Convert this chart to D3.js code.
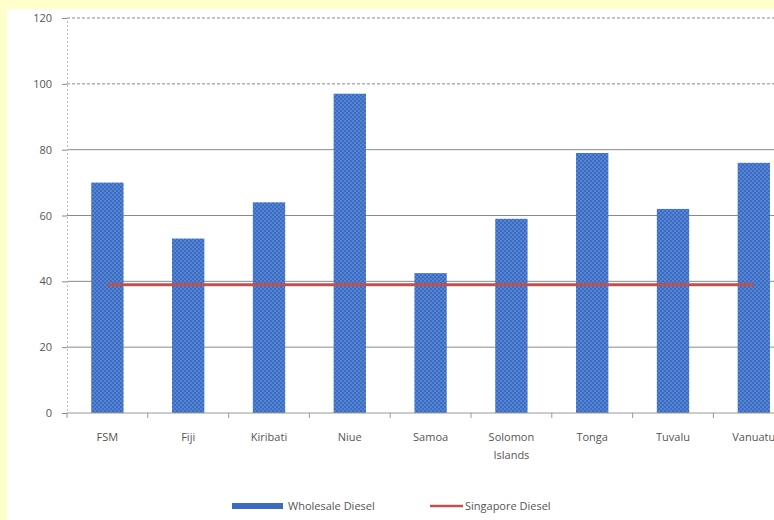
<!DOCTYPE html>
<html>
<head>
<meta charset="utf-8">
<script src="https://cdn.jsdelivr.net/npm/d3@7"></script>
<style>
  html, body { margin: 0; padding: 0; background: #ffffcc; }
  svg { display: block; }
  text { font-family: "Open Sans", "DejaVu Sans", sans-serif; fill: #555; }
</style>
</head>
<body>
<script>
// Wholesale diesel prices by Pacific island country vs. Singapore benchmark
const categories = ["FSM", "Fiji", "Kiribati", "Niue", "Samoa", "Solomon Islands", "Tonga", "Tuvalu", "Vanuatu"];
const wholesaleDiesel = [70, 53, 64, 97, 42.5, 59, 79, 62, 76];
const singaporeDiesel = [39, 39, 39, 39, 39, 39, 39, 39, 39];
const yTicks = [0, 20, 40, 60, 80, 100, 120];
const seriesNames = ["Wholesale Diesel", "Singapore Diesel"];

const W = 774, H = 520;
const svg = d3.select("body").append("svg").attr("width", W).attr("height", H);

// white chart panel on the yellow page
svg.append("rect").attr("x", 7).attr("y", 9).attr("width", W - 7).attr("height", H - 9).attr("fill", "#fff");

// hatched fill for the bars
const defs = svg.append("defs");
const pat = defs.append("pattern").attr("id", "hatch").attr("patternUnits", "userSpaceOnUse")
  .attr("width", 4).attr("height", 4);
pat.append("rect").attr("width", 4).attr("height", 4).attr("fill", "#3b6cc2");
pat.append("rect").attr("x", 0).attr("y", 0).attr("width", 2).attr("height", 2).attr("fill", "#5584d2");
pat.append("rect").attr("x", 2).attr("y", 2).attr("width", 2).attr("height", 2).attr("fill", "#5584d2");

const plotLeft = 67, plotTop = 18, plotBottom = 413;
const step = 80.8;
const x = d3.scaleBand().domain(categories).range([plotLeft, plotLeft + step * categories.length])
  .paddingInner(0.6).paddingOuter(0.3);
const y = d3.scaleLinear().domain([0, 120]).range([plotBottom, plotTop]);

// horizontal gridlines
const grid = svg.append("g");
grid.selectAll("line").data(yTicks.filter(d => d > 0)).join("line")
  .attr("x1", plotLeft).attr("x2", W)
  .attr("y1", d => y(d)).attr("y2", d => y(d))
  .attr("stroke", "#8a8a8a").attr("stroke-width", 1)
  .attr("stroke-dasharray", d => d >= 100 ? "3,2" : null);

// y axis
const yAxis = d3.axisLeft(y).tickValues(yTicks).tickSize(5).tickPadding(10);
const gy = svg.append("g").attr("transform", `translate(${plotLeft},0)`).call(yAxis);
gy.select(".domain").attr("stroke", "#bbb").attr("stroke-dasharray", "2,2");
gy.selectAll(".tick line").attr("stroke", "#888");
gy.selectAll(".tick text").attr("font-size", 11).style("fill", "#555");

// bars
svg.append("g").selectAll("rect").data(categories).join("rect")
  .attr("x", d => x(d))
  .attr("width", x.bandwidth())
  .attr("y", (d, i) => y(wholesaleDiesel[i]))
  .attr("height", (d, i) => y(0) - y(wholesaleDiesel[i]))
  .attr("fill", "url(#hatch)");

// x axis baseline with ticks between categories
svg.append("line").attr("x1", plotLeft).attr("x2", W).attr("y1", plotBottom).attr("y2", plotBottom)
  .attr("stroke", "#999").attr("stroke-width", 1);
const bounds = d3.range(categories.length + 1).map(i => plotLeft + i * step);
svg.append("g").selectAll("line").data(bounds).join("line")
  .attr("x1", d => d).attr("x2", d => d).attr("y1", plotBottom).attr("y2", plotBottom + 5)
  .attr("stroke", "#999");

// category labels (wrapped onto two lines where needed)
const labels = svg.append("g").selectAll("text").data(categories).join("text")
  .attr("x", d => x(d) + x.bandwidth() / 2)
  .attr("y", 441)
  .attr("text-anchor", "middle")
  .attr("font-size", 11);
labels.each(function(d) {
  const t = d3.select(this);
  const words = d === "Solomon Islands" ? ["Solomon", "Islands"] : [d];
  words.forEach((w, i) => {
    t.append("tspan").attr("x", t.attr("x")).attr("dy", i === 0 ? 0 : 18).text(w);
  });
});

// Singapore benchmark line
const line = d3.line()
  .x((d, i) => x(categories[i]) + x.bandwidth() / 2)
  .y(d => y(d));
svg.append("path").datum(singaporeDiesel)
  .attr("d", line).attr("fill", "none")
  .attr("stroke", "#c0504d").attr("stroke-width", 3);

// legend
const lg = svg.append("g");
lg.append("rect").attr("x", 232).attr("y", 503).attr("width", 51).attr("height", 6).attr("fill", "#3b6cc2");
lg.append("text").attr("x", 288).attr("y", 510).attr("font-size", 11).text(seriesNames[0]);
lg.append("line").attr("x1", 430).attr("x2", 463).attr("y1", 506).attr("y2", 506)
  .attr("stroke", "#c0504d").attr("stroke-width", 2.5);
lg.append("text").attr("x", 465).attr("y", 510).attr("font-size", 11).text(seriesNames[1]);
</script>
</body>
</html>
